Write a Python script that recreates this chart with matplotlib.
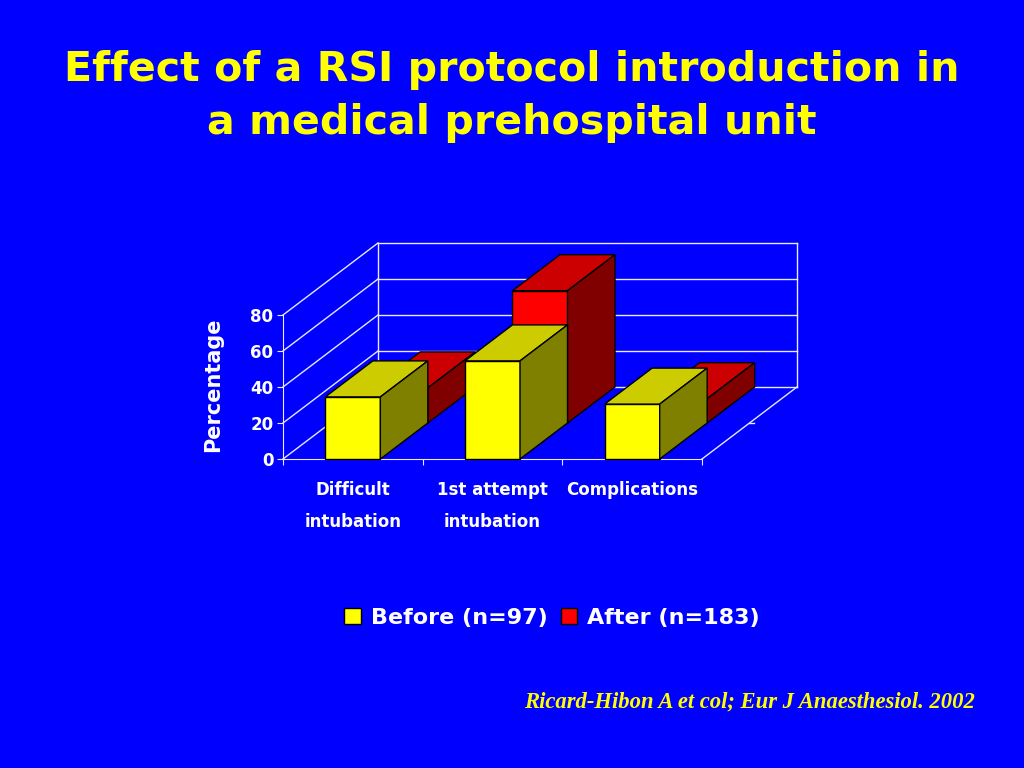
import matplotlib
matplotlib.use("Agg")
import matplotlib.pyplot as plt
from matplotlib.patches import Polygon, Patch

# data
categories = ["Difficult\nintubation", "1st attempt\nintubation", "Complications"]
before = [34.5, 54.5, 30.5]
after = [19.5, 73.5, 13.5]
series_names = ["Before (n=97)", "After (n=183)"]
yticks = [0, 20, 40, 60, 80]

BG = "#0000FF"
YEL = "#FFFF00"
fronts = ["#FFFF00", "#FF0000"]
tops = ["#CCCC00", "#CC0000"]
sides = ["#808000", "#800000"]
GRID = "#E8E8FF"

fig = plt.figure(figsize=(10.24, 7.68), dpi=100, facecolor=BG)

# axes placed so one category = 139.7 px and one percent = 1.8 px
W, H = 1024, 768
xpx, ypx = 139.67, 1.8
x0px, y0px = 283, 459
xlim = (-0.6, 3.85)
ylim = (-8, 128)
left = x0px + xlim[0] * xpx
right = x0px + xlim[1] * xpx
bot = y0px - ylim[0] * ypx
top = y0px - ylim[1] * ypx
ax = fig.add_axes([left / W, 1 - bot / H, (right - left) / W, (bot - top) / H])
ax.set_xlim(*xlim)
ax.set_ylim(*ylim)
ax.patch.set_visible(False)

# depth of the 3d box, in data units
ddx, ddy = 0.68, 40.0
vmax = 80
ncat = len(categories)

# walls and grid
for v in yticks:
    ax.plot([ddx, ncat + ddx], [v + ddy, v + ddy], color=GRID, lw=1, zorder=1)
    ax.plot([0, ddx], [v, v + ddy], color=GRID, lw=1, zorder=1)
ax.plot([ddx, ddx], [ddy, vmax + ddy], color=GRID, lw=1, zorder=1)
ax.plot([ncat + ddx, ncat + ddx], [ddy, vmax + ddy], color=GRID, lw=1, zorder=1)
ax.plot([ncat, ncat + ddx], [0, ddy], color=GRID, lw=1, zorder=1)
ax.plot([ncat + ddx / 2, ncat + ddx / 2 + 0.03], [ddy / 2, ddy / 2], color=GRID, lw=1, zorder=1)

# spines / ticks
for s in ["top", "right"]:
    ax.spines[s].set_visible(False)
ax.spines["left"].set_position(("data", 0))
ax.spines["left"].set_bounds(0, vmax)
ax.spines["bottom"].set_position(("data", 0))
ax.spines["bottom"].set_bounds(0, ncat)
for s in ["left", "bottom"]:
    ax.spines[s].set_color(GRID)
    ax.spines[s].set_zorder(1)
ax.set_yticks(yticks)
ax.set_yticklabels([str(v) for v in yticks], color="white", fontsize=12, fontweight="bold")
ax.tick_params(axis="y", colors=GRID, labelcolor="white", length=4, pad=3)
ax.set_xticks(range(ncat + 1))
ax.set_xticklabels([])
ax.set_xticks([i + 0.5 for i in range(ncat)], minor=True)
ax.set_xticklabels(categories, minor=True, color="white", fontsize=12,
                   fontweight="bold", linespacing=1.95)
ax.tick_params(axis="x", which="major", colors=GRID, length=4)
ax.tick_params(axis="x", which="minor", length=0, pad=16, labelcolor="white")

# bars
bw = 0.394
def bar3d(i, v, row):
    d0, d1 = row * 0.5, row * 0.5 + 0.5
    xl = i + (1 - bw) / 2 + d0 * ddx
    yb = d0 * ddy
    ox, oy = (d1 - d0) * ddx, (d1 - d0) * ddy
    front = [(xl, yb), (xl + bw, yb), (xl + bw, yb + v), (xl, yb + v)]
    topf = [(xl, yb + v), (xl + bw, yb + v), (xl + bw + ox, yb + v + oy), (xl + ox, yb + v + oy)]
    side = [(xl + bw, yb), (xl + bw + ox, yb + oy), (xl + bw + ox, yb + v + oy), (xl + bw, yb + v)]
    z = 5 - row
    for pts, c in [(front, fronts[row]), (topf, tops[row]), (side, sides[row])]:
        ax.add_patch(Polygon(pts, closed=True, facecolor=c, edgecolor="black", lw=1, zorder=z))

for i, v in enumerate(after):
    bar3d(i, v, 1)
for i, v in enumerate(before):
    bar3d(i, v, 0)

fig.text(213 / W, 1 - 385 / H, "Percentage", rotation=90, color="white", fontsize=15,
         fontweight="bold", ha="center", va="center")

# title
fig.text(0.5, 1 - 70 / H, "Effect of a RSI protocol introduction in", color=YEL,
         fontsize=29.6, fontweight="bold", ha="center", va="center")
fig.text(0.5, 1 - 123 / H, "a medical prehospital unit", color=YEL,
         fontsize=29.6, fontweight="bold", ha="center", va="center")

# legend
handles = [Patch(facecolor=fronts[k], edgecolor="black", label=series_names[k]) for k in range(2)]
leg = fig.legend(handles=handles, loc="center", bbox_to_anchor=(552 / W, 1 - 618 / H),
                 ncol=2, frameon=False, handlelength=0.75, handleheight=0.75,
                 handletextpad=0.45, columnspacing=0.6, fontsize=16)
for t in leg.get_texts():
    t.set_color("white")
    t.set_fontweight("bold")

fig.text(975 / W, 1 - 702 / H, "Ricard-Hibon A et col; Eur J Anaesthesiol. 2002", color=YEL,
         fontsize=16.3, fontstyle="italic", fontweight="bold", family="Liberation Serif",
         ha="right", va="center")

fig.savefig("out.png", dpi=100, facecolor=BG)
